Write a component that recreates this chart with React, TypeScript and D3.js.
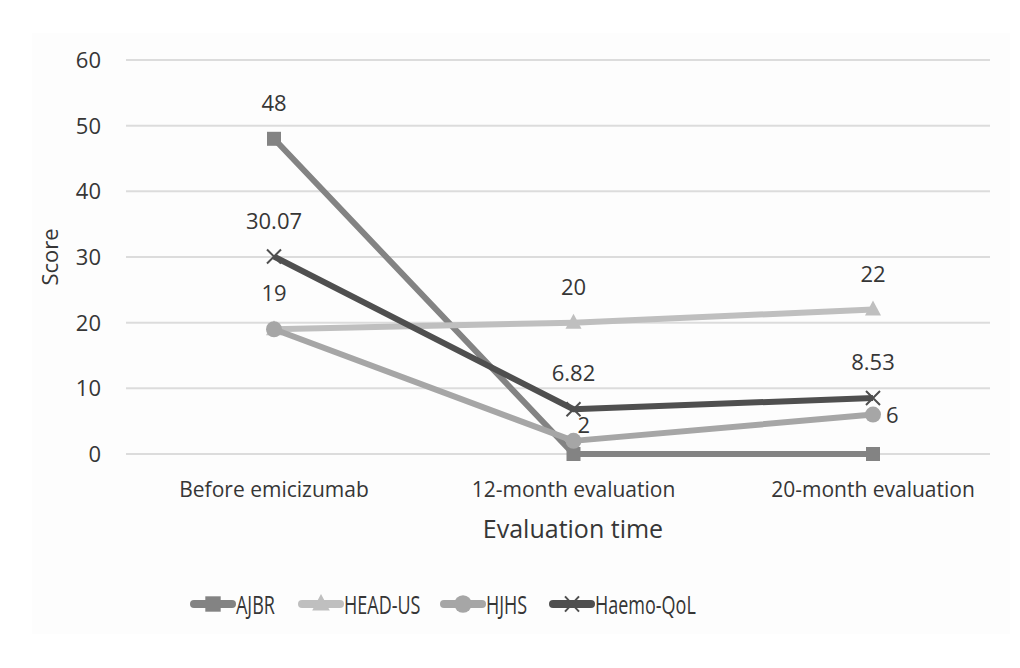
import React, { useRef, useEffect } from "react";
import * as d3 from "d3";

const categories = ["Before emicizumab", "12-month evaluation", "20-month evaluation"];
const seriesNames = ["AJBR", "HEAD-US", "HJHS", "Haemo-QoL"];
const ajbr = [48, 0, 0];
const headUs = [19, 20, 22];
const hjhs = [19, 2, 6];
const haemoQol = [30.07, 6.82, 8.53];
const yTicks = [0, 10, 20, 30, 40, 50, 60];

const seriesColors = ["#838383", "#bfbfbf", "#a6a6a6", "#4f4f4f"];
const seriesShapes = ["square", "triangle", "circle", "cross"];

// which points get a data label, and where it sits
const labelPlan: { s: number; i: number; pos: "above" | "right" | "aboveRight" }[] = [
  { s: 0, i: 0, pos: "above" },
  { s: 1, i: 0, pos: "above" },
  { s: 1, i: 1, pos: "above" },
  { s: 1, i: 2, pos: "above" },
  { s: 2, i: 1, pos: "aboveRight" },
  { s: 2, i: 2, pos: "right" },
  { s: 3, i: 0, pos: "above" },
  { s: 3, i: 1, pos: "above" },
  { s: 3, i: 2, pos: "above" },
];

export default function App() {
  const svgRef = useRef(null);

  useEffect(() => {
    const width = 1020;
    const height = 668;
    const font = "'Open Sans', sans-serif";
    const textColor = "#363636";
    const allValues = [ajbr, headUs, hjhs, haemoQol];

    const svg = d3.select(svgRef.current);
    svg.selectAll("*").remove();
    svg.attr("width", width).attr("height", height);

    svg.append("rect").attr("width", width).attr("height", height).attr("fill", "#ffffff");
    svg
      .append("rect")
      .attr("x", 32)
      .attr("y", 33)
      .attr("width", 978)
      .attr("height", 601)
      .attr("fill", "#fdfdfd");

    const gridLeft = 126;
    const gridRight = 990;

    const x = d3.scalePoint().domain(categories).range([274, 873]);
    const y = d3.scaleLinear().domain([0, 60]).range([454, 60]);

    // gridlines
    svg
      .append("g")
      .selectAll("line")
      .data(yTicks)
      .join("line")
      .attr("x1", gridLeft)
      .attr("x2", gridRight)
      .attr("y1", (d) => y(d))
      .attr("y2", (d) => y(d))
      .attr("stroke", "#dcdcdc")
      .attr("stroke-width", 2);

    // y tick labels
    svg
      .append("g")
      .selectAll("text")
      .data(yTicks)
      .join("text")
      .attr("x", 101)
      .attr("y", (d) => y(d))
      .attr("dy", "0.36em")
      .attr("text-anchor", "end")
      .attr("font-family", font)
      .attr("font-size", 22)
      .attr("fill", textColor)
      .text((d) => d);

    // category labels
    svg
      .append("g")
      .selectAll("text")
      .data(categories)
      .join("text")
      .attr("x", (d) => x(d)!)
      .attr("y", 497)
      .attr("text-anchor", "middle")
      .attr("font-family", font)
      .attr("font-size", 21)
      .attr("fill", textColor)
      .text((d) => d);

    // axis titles
    svg
      .append("text")
      .attr("x", 573)
      .attr("y", 538)
      .attr("text-anchor", "middle")
      .attr("font-family", font)
      .attr("font-size", 25)
      .attr("fill", textColor)
      .text("Evaluation time");

    svg
      .append("text")
      .attr("transform", `translate(58, ${y(30)}) rotate(-90)`)
      .attr("text-anchor", "middle")
      .attr("font-family", font)
      .attr("font-size", 22)
      .attr("fill", textColor)
      .text("Score");

    const drawMarker = (g: any, shape: string, color: string, cx: number, cy: number, k = 1) => {
      if (shape === "square") {
        g.append("rect")
          .attr("x", cx - 7 * k)
          .attr("y", cy - 7 * k)
          .attr("width", 14 * k)
          .attr("height", 14 * k)
          .attr("fill", color);
      } else if (shape === "triangle") {
        g.append("path")
          .attr("d", `M${cx},${cy - 9 * k}L${cx + 8 * k},${cy + 6 * k}L${cx - 8 * k},${cy + 6 * k}Z`)
          .attr("fill", color);
      } else if (shape === "circle") {
        g.append("circle").attr("cx", cx).attr("cy", cy).attr("r", 8 * k).attr("fill", color);
      } else {
        g.append("path")
          .attr("d", `M${cx - 7},${cy - 7 * k}L${cx + 7},${cy + 7 * k}M${cx - 7},${cy + 7 * k}L${cx + 7},${cy - 7 * k}`)
          .attr("stroke", color)
          .attr("stroke-width", 2)
          .attr("fill", "none");
      }
    };

    const line = d3
      .line<number>()
      .x((_, i) => x(categories[i])!)
      .y((d) => y(d));

    const plot = svg.append("g");
    allValues.forEach((vals, s) => {
      plot
        .append("path")
        .attr("d", line(vals))
        .attr("fill", "none")
        .attr("stroke", seriesColors[s])
        .attr("stroke-width", 6)
        .attr("stroke-linejoin", "round");
      vals.forEach((v, i) => drawMarker(plot, seriesShapes[s], seriesColors[s], x(categories[i])!, y(v)));
    });

    // data labels
    svg
      .append("g")
      .selectAll("text")
      .data(labelPlan)
      .join("text")
      .attr("x", (d) => {
        const cx = x(categories[d.i])!;
        if (d.pos === "right") return cx + 13;
        if (d.pos === "aboveRight") return cx + 4;
        return cx;
      })
      .attr("y", (d) => {
        const cy = y(allValues[d.s][d.i]);
        if (d.pos === "right") return cy + 8;
        if (d.pos === "aboveRight") return cy - 8;
        return cy - 28;
      })
      .attr("text-anchor", (d) => (d.pos === "above" ? "middle" : "start"))
      .attr("font-family", font)
      .attr("font-size", 22)
      .attr("fill", textColor)
      .text((d) => String(allValues[d.s][d.i]));

    // legend
    const legendX = [190, 298, 440, 549];
    const legendY = 604;
    const legend = svg
      .append("g")
      .selectAll("g")
      .data(seriesNames)
      .join("g")
      .attr("transform", (_, i) => `translate(${legendX[i]}, ${legendY})`);

    legend
      .append("line")
      .attr("x1", 4)
      .attr("x2", 42)
      .attr("stroke", (_, i) => seriesColors[i])
      .attr("stroke-width", 8)
      .attr("stroke-linecap", "round");

    legend.each(function (_, i) {
      drawMarker(d3.select(this), seriesShapes[i], seriesColors[i], 23, 0, 1.1);
    });

    legend
      .append("text")
      .attr("transform", "translate(46, 1) scale(0.72, 1)")
      .attr("dy", "0.36em")
      .attr("font-family", font)
      .attr("font-size", 25)
      .attr("fill", textColor)
      .text((d) => d);
  }, []);

  return <svg ref={svgRef} style={{ position: "absolute", left: 0, top: 0 }}></svg>;
}
